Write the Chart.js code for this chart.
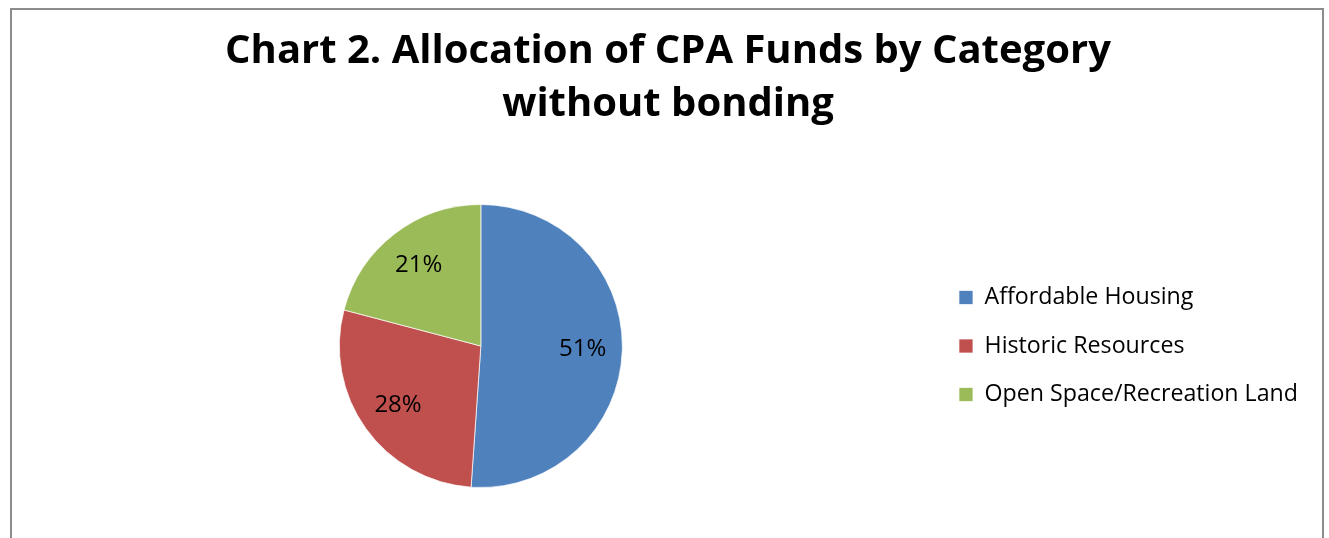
<!DOCTYPE html>
<html>
<head>
<meta charset="utf-8">
<script src="https://cdn.jsdelivr.net/npm/chart.js@4"></script>
<style>
    html, body { margin: 0; padding: 0; background: #fff; overflow: hidden; }
    #wrap { position: relative; width: 1329px; height: 538px; }
    #frame {
        position: absolute; left: 10px; top: 8px; width: 1314px; height: 540px;
        border: 2px solid #8c8c8c; border-bottom: none; box-sizing: border-box;
    }
    canvas { position: absolute; left: 0; top: 0; }
</style>
</head>
<body>
<div id="wrap">
    <div id="frame"></div>
    <canvas id="pie-chart" width="1329" height="538"></canvas>
</div>
<script>
const titleLines = ['Chart 2. Allocation of CPA Funds by Category', 'without bonding'];
const categories = ['Affordable Housing', 'Historic Resources', 'Open Space/Recreation Land'];
const shares = [51.1, 28.0, 20.9];
const sliceColors = ['#4F81BD', '#C0504D', '#9BBB59'];

// nhãn phần trăm đặt bên trong từng lát
const pctLabels = {
    id: 'pctLabels',
    afterDatasetsDraw(chart) {
        const ctx = chart.ctx;
        const meta = chart.getDatasetMeta(0);
        const total = shares.reduce((a, b) => a + b, 0);
        ctx.save();
        ctx.font = '24px "Open Sans"';
        ctx.fillStyle = '#000';
        ctx.textAlign = 'center';
        ctx.textBaseline = 'middle';
        meta.data.forEach((arc, i) => {
            const p = arc.getProps(['x', 'y', 'startAngle', 'endAngle', 'outerRadius'], true);
            const mid = (p.startAngle + p.endAngle) / 2;
            const r = p.outerRadius * 0.72;
            ctx.fillText(Math.round(shares[i] / total * 100) + '%', p.x + Math.cos(mid) * r, p.y + Math.sin(mid) * r);
        });
        ctx.restore();
    }
};

const pieChart = new Chart(document.getElementById('pie-chart'), {
    type: 'pie',
    data: {
        labels: categories,
        datasets: [{
            data: shares,
            backgroundColor: sliceColors,
            borderColor: 'rgba(255,255,255,0.7)',
            borderWidth: 1
        }]
    },
    options: {
        responsive: false,
        animation: false,
        layout: { padding: { left: 28, right: 21, top: 0, bottom: 50 } },
        plugins: {
            title: {
                display: true,
                text: titleLines,
                color: '#000',
                font: { family: 'Open Sans', size: 40, weight: 'bold', lineHeight: '53px' },
                padding: { top: 25, bottom: 73 }
            },
            legend: {
                position: 'right',
                align: 'center',
                fullSize: false,
                labels: {
                    boxWidth: 14,
                    boxHeight: 14,
                    padding: 25.3,
                    color: '#000',
                    font: { family: 'Open Sans', size: 23.2 }
                }
            },
            tooltip: { enabled: false }
        }
    },
    plugins: [pctLabels]
});
</script>
</body>
</html>
